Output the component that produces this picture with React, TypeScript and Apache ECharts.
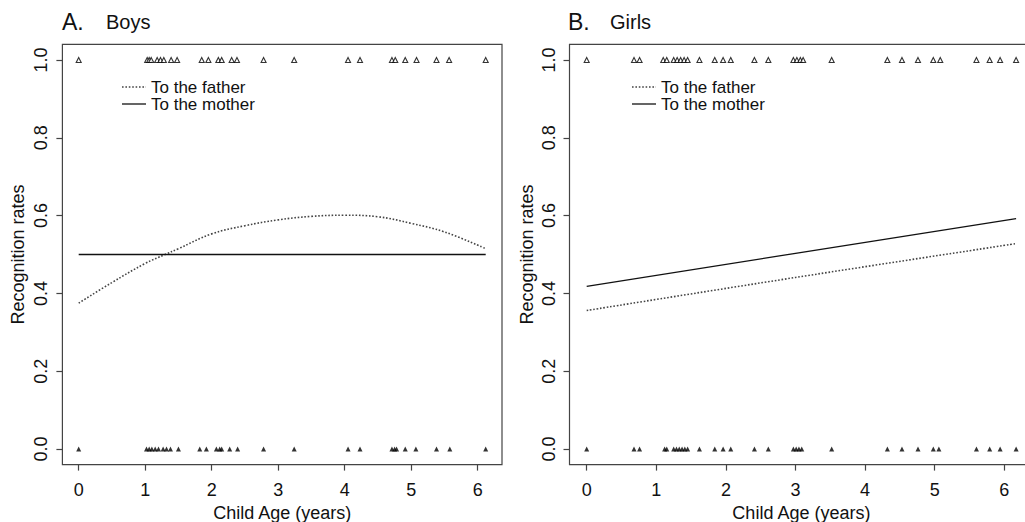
import React, { useEffect, useRef } from "react";
import * as echarts from "echarts";

// ---- Data ----
const xTicks = [0, 1, 2, 3, 4, 5, 6];
const yTicks = [0, 0.2, 0.4, 0.6, 0.8, 1.0];

// Boys: observed ages of recognised (1) / not recognised (0) trials
const boysOne = [0, 1.03, 1.06, 1.09, 1.18, 1.23, 1.28, 1.39, 1.48, 1.85, 1.95, 2.1, 2.15, 2.3, 2.38, 2.78, 3.24, 4.05, 4.23, 4.71, 4.76, 4.91, 5.08, 5.38, 5.57, 6.12];
const boysZero = [0, 1.02, 1.06, 1.1, 1.15, 1.2, 1.27, 1.32, 1.38, 1.5, 1.82, 1.92, 2.07, 2.12, 2.15, 2.27, 2.39, 2.78, 3.24, 4.05, 4.23, 4.71, 4.75, 4.78, 4.91, 5.07, 5.38, 5.58, 6.12];

// Girls
const girlsOne = [0, 0.68, 0.76, 1.1, 1.15, 1.25, 1.3, 1.35, 1.4, 1.45, 1.62, 1.84, 1.96, 2.07, 2.41, 2.61, 2.97, 3.02, 3.07, 3.11, 3.52, 4.32, 4.53, 4.76, 4.98, 5.08, 5.6, 5.79, 5.94, 6.17];
const girlsZero = [0, 0.68, 0.76, 1.12, 1.15, 1.25, 1.29, 1.33, 1.37, 1.41, 1.45, 1.62, 1.84, 1.96, 2.07, 2.41, 2.61, 2.97, 3.01, 3.05, 3.09, 3.52, 4.32, 4.53, 4.76, 4.98, 5.06, 5.6, 5.79, 5.94, 6.17];

// Fitted curves
const boysFatherAge = [0, 0.5, 1, 1.3, 1.5, 2, 2.5, 3, 3.5, 4, 4.5, 5, 5.5, 6.12];
const boysFatherRate = [0.375, 0.428, 0.477, 0.5, 0.515, 0.553, 0.574, 0.589, 0.598, 0.601, 0.597, 0.58, 0.558, 0.515];
const boysMotherAge = [0, 6.12];
const boysMotherRate = [0.5, 0.5];

const girlsFatherAge = [0, 3, 6.17];
const girlsFatherRate = [0.356, 0.441, 0.528];
const girlsMotherAge = [0, 3, 6.17];
const girlsMotherRate = [0.418, 0.503, 0.592];

const FONT = "'Liberation Sans', Arial, Helvetica, sans-serif";
const TXT = "#111";
const FRAME = "#444";

const zip = (a: number[], b: number[]) => a.map((v, i) => [v, b[i]]);

function xAxisCfg(gridIndex: number, min: number, max: number) {
  return {
    type: "value",
    gridIndex,
    position: "bottom",
    min,
    max,
    name: "Child Age (years)",
    nameLocation: "middle",
    nameGap: 36,
    nameTextStyle: { fontSize: 18, color: TXT, fontFamily: FONT },
    axisLine: { show: false, onZero: false },
    axisTick: { show: true, inside: false, length: 6, customValues: xTicks, lineStyle: { color: FRAME, width: 1.2 } },
    axisLabel: { show: true, customValues: xTicks, margin: 16, fontSize: 18, color: TXT, fontFamily: FONT, formatter: (v: number) => String(v) },
    splitLine: { show: false },
  };
}

function yAxisCfg(gridIndex: number, nameGap: number) {
  return {
    type: "value",
    gridIndex,
    position: "left",
    min: -0.04,
    max: 1.04,
    name: "Recognition rates",
    nameLocation: "middle",
    nameGap,
    nameTextStyle: { fontSize: 18, color: TXT, fontFamily: FONT },
    axisLine: { show: false, onZero: false },
    axisTick: { show: true, inside: false, length: 6, customValues: yTicks, lineStyle: { color: FRAME, width: 1.2 } },
    axisLabel: { show: true, rotate: 90, customValues: yTicks, margin: 12, fontSize: 18, color: TXT, fontFamily: FONT, formatter: (v: number) => v.toFixed(1) },
    splitLine: { show: false },
  };
}

function pointSeries(idx: number, ages: number[], y: number, hollow: boolean) {
  return {
    type: "scatter",
    xAxisIndex: idx,
    yAxisIndex: idx,
    clip: false,
    symbol: "triangle",
    symbolSize: 5,
    itemStyle: hollow
      ? { color: "#fff", borderColor: "#000", borderWidth: 1.1 }
      : { color: "#000" },
    data: ages.map((a) => [a, y]),
    z: 3,
  };
}

function lineSeries(idx: number, data: number[][], dotted: boolean) {
  return {
    type: "line",
    xAxisIndex: idx,
    yAxisIndex: idx,
    showSymbol: false,
    smooth: dotted ? 0.4 : false,
    clip: false,
    data,
    lineStyle: dotted
      ? { color: "#444", width: 1.6, type: [1.6, 1.8] }
      : { color: "#111", width: 1.3, type: "solid" },
    z: 4,
  };
}

function legendGraphics(x0: number, yF: number, yM: number) {
  return [
    { type: "line", shape: { x1: x0, y1: yF, x2: x0 + 24, y2: yF }, style: { stroke: "#444", lineWidth: 1.5, lineDash: [1.6, 1.8] } },
    { type: "text", x: x0 + 29, y: yF, style: { text: "To the father", fill: TXT, font: `17px ${FONT}`, verticalAlign: "middle", textVerticalAlign: "middle", align: "left" } },
    { type: "line", shape: { x1: x0, y1: yM, x2: x0 + 24, y2: yM }, style: { stroke: "#111", lineWidth: 1.3 } },
    { type: "text", x: x0 + 29, y: yM, style: { text: "To the mother", fill: TXT, font: `17px ${FONT}`, verticalAlign: "middle", textVerticalAlign: "middle", align: "left" } },
  ];
}

function titleGraphics(x: number, xWord: number, letter: string, word: string) {
  return [
    { type: "text", x, y: 22, style: { text: letter, fill: TXT, font: `23px ${FONT}`, verticalAlign: "middle", textVerticalAlign: "middle" } },
    { type: "text", x: xWord, y: 22, style: { text: word, fill: TXT, font: `20px ${FONT}`, verticalAlign: "middle", textVerticalAlign: "middle" } },
  ];
}

export default function App() {
  const ref = useRef<HTMLDivElement>(null);
  useEffect(() => {
    document.body.style.margin = "0";
    if (!ref.current) return;
    const chart = echarts.init(ref.current, undefined, { renderer: "svg" });
    chart.setOption({
      animation: false,
      backgroundColor: "#fff",
      textStyle: { fontFamily: FONT },
      grid: [
        { left: 62.4, top: 44.4, width: 439.6, height: 420.2, containLabel: false, outerBoundsMode: "none", show: true, borderColor: FRAME, borderWidth: 1.2, backgroundColor: "transparent" },
        { left: 569.5, top: 44.4, width: 463.8, height: 420.2, containLabel: false, outerBoundsMode: "none", show: true, borderColor: FRAME, borderWidth: 1.2, backgroundColor: "transparent" },
      ],
      xAxis: [xAxisCfg(0, -0.245, 6.365), xAxisCfg(1, -0.247, 6.417)],
      yAxis: [yAxisCfg(0, 35), yAxisCfg(1, 34)],
      series: [
        pointSeries(0, boysOne, 1, true),
        pointSeries(0, boysZero, 0, false),
        lineSeries(0, zip(boysFatherAge, boysFatherRate), true),
        lineSeries(0, zip(boysMotherAge, boysMotherRate), false),
        pointSeries(1, girlsOne, 1, true),
        pointSeries(1, girlsZero, 0, false),
        lineSeries(1, zip(girlsFatherAge, girlsFatherRate), true),
        lineSeries(1, zip(girlsMotherAge, girlsMotherRate), false),
      ],
      graphic: [
        ...titleGraphics(62, 106, "A.", "Boys"),
        ...titleGraphics(568, 610, "B.", "Girls"),
        ...legendGraphics(122, 87, 104),
        ...legendGraphics(632, 87, 104),
      ],
    });
    return () => chart.dispose();
  }, []);
  return <div ref={ref} style={{ width: 1025, height: 522 }} />;
}
